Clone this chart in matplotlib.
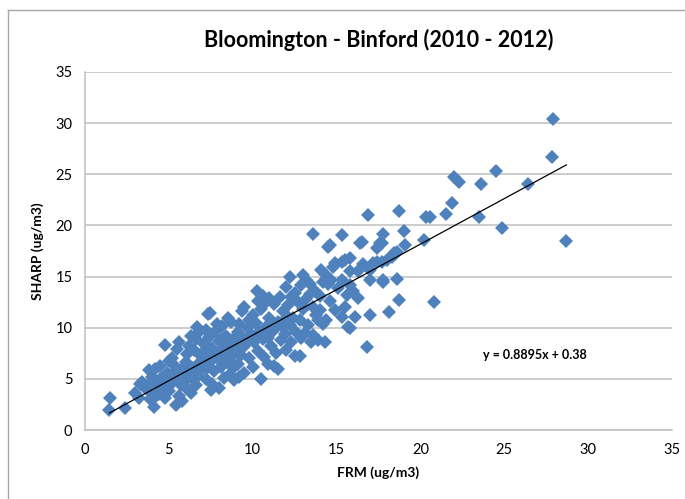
import matplotlib.pyplot as plt
from matplotlib.lines import Line2D

# FRM vs SHARP
frm = [
    1.45, 1.5, 2.4, 3.2, 3.3, 3.0,
    3.4, 3.6, 3.8, 3.9, 4.1, 4.2, 4.0, 4.3, 4.4, 4.5, 4.6, 4.8, 4.7, 4.9, 4.5, 4.9, 4.2, 3.7, 4.8, 4.1,
    5.0, 5.1, 5.2, 5.4, 5.3, 5.5, 5.6, 5.5, 5.7, 5.8, 5.9, 5.6, 6.0, 6.0, 6.1, 6.2, 6.3, 6.3, 6.4, 6.5,
    6.5, 6.6, 6.7, 6.8, 6.8, 6.9, 5.2, 5.8, 6.1, 6.6, 5.4, 6.9, 6.2, 5.0, 6.7,
    7.0, 7.1, 7.2, 7.3, 7.35, 7.4, 7.5, 7.5, 7.6, 7.7, 7.8, 7.9, 8.0, 8.0, 8.1, 8.2, 8.3, 8.3, 8.4, 8.5,
    8.6, 8.65, 8.7, 8.8, 8.9, 8.9, 7.2, 7.6, 8.2, 8.5, 7.9, 8.8, 7.0, 7.45, 8.4,
    9.0, 9.1, 9.2, 9.3, 9.35, 9.4, 9.5, 9.5, 9.6, 9.7, 9.8, 9.9, 10.0, 10.0, 10.1, 10.25, 10.2, 10.3,
    10.4, 10.5, 10.5, 10.6, 10.7, 10.8, 10.8, 10.9, 10.9, 9.2, 9.8, 10.3, 9.4, 10.6, 9.1,
    11.0, 11.1, 11.2, 11.3, 11.4, 11.5, 11.5, 11.6, 11.7, 11.8, 11.9, 12.0, 12.0, 12.1, 12.2, 12.2,
    12.3, 12.4, 12.5, 12.5, 12.6, 12.7, 12.8, 12.8, 12.9, 12.9, 11.3, 12.3, 11.0, 11.8,
    13.0, 13.0, 13.1, 13.2, 13.2, 13.3, 13.4, 13.5, 13.6, 13.6, 13.6, 13.7, 13.8, 13.9, 13.9, 14.0,
    14.1, 14.2, 14.2, 14.3, 14.3, 14.4, 14.4, 14.5, 14.5, 14.6, 14.7, 14.8, 14.9, 14.9, 14.0, 13.4, 14.6,
    15.3, 15.3, 15.3, 15.3, 15.5, 15.5, 15.6, 15.7, 15.8, 15.8, 15.8, 15.8, 16.1, 16.3, 16.3, 16.4,
    16.5, 16.8, 16.9, 17.0, 17.0, 17.0, 16.0, 16.6, 15.1,
    17.2, 17.4, 17.4, 17.6, 17.7, 17.7, 17.8, 17.8, 17.8, 18.0, 18.1, 18.3, 18.4, 18.5, 18.6, 18.6,
    18.7, 18.7, 19.05, 19.1, 20.2, 20.35, 20.6, 20.8, 21.5, 21.9, 22.0, 22.3, 23.5, 23.6, 24.5, 24.85,
    26.4, 27.85, 27.9, 28.7,
    # denser core of the cloud
    5.3, 5.7, 6.0, 6.4, 6.8, 7.1, 7.4, 7.7, 8.0, 8.3, 8.6, 9.0, 9.3, 9.6, 10.0, 10.3, 10.7,
    11.1, 11.4, 11.8, 12.1, 5.9, 6.6, 7.3, 8.1, 8.8, 9.5, 10.2, 11.0, 11.7, 4.4, 3.9,
]
sharp = [
    2.0, 3.1, 2.2, 3.1, 4.5, 3.6,
    4.7, 4.1, 5.9, 3.7, 2.3, 3.2, 5.2, 4.4, 3.7, 5.0, 4.2, 8.3, 3.5, 5.6, 6.3, 4.8, 6.0, 4.3, 3.1, 4.9,
    3.8, 5.4, 4.6, 2.5, 6.4, 5.0, 3.3, 7.9, 4.4, 6.0, 5.3, 8.6, 4.1, 6.7, 7.4, 5.6, 3.6, 9.2, 6.1, 4.9,
    7.8, 8.9, 5.4, 6.6, 9.6, 7.2, 7.0, 2.8, 5.0, 4.4, 5.8, 5.9, 8.2, 6.8, 10.1,
    6.3, 8.4, 5.0, 7.6, 11.3, 9.1, 6.8, 3.9, 8.0, 5.8, 9.7, 7.0, 8.7, 4.1, 6.2, 10.2, 5.1, 7.6, 9.2, 6.8,
    8.3, 5.5, 10.6, 7.3, 4.9, 9.0, 9.8, 4.5, 8.9, 11.0, 10.4, 6.1, 7.5, 11.4, 7.9,
    8.0, 6.5, 10.4, 7.3, 11.6, 9.0, 5.6, 12.0, 8.4, 10.0, 7.0, 9.3, 11.2, 6.2, 8.6, 13.6, 10.5, 7.7,
    9.6, 5.0, 11.8, 8.9, 7.1, 12.5, 10.1, 6.5, 9.0, 5.2, 10.8, 12.6, 8.1, 13.1, 9.6,
    11.0, 8.2, 9.7, 12.3, 7.5, 6.0, 10.6, 13.0, 8.8, 11.6, 9.4, 14.0, 7.8, 12.2, 15.0, 10.3,
    8.6, 11.0, 7.2, 13.4, 9.6, 12.5, 7.2, 10.8, 14.2, 9.0, 6.3, 13.0, 12.9, 10.1,
    15.15, 11.8, 9.5, 14.7, 12.8, 10.3, 14.3, 8.6, 19.2, 9.3, 12.0, 13.6, 11.25, 10.75, 8.8, 13.1,
    15.6, 14.5, 10.4, 15.3, 8.6, 14.8, 10.75, 17.9, 14.3, 18.1, 14.7, 15.95, 16.3, 11.7, 11.7, 13.3, 12.6,
    16.45, 14.7, 11.1, 19.1, 16.6, 12.05, 13.2, 10.1, 16.8, 15.5, 14.2, 9.95, 11.1, 15.5, 12.9, 18.3,
    18.4, 8.15, 21.0, 15.6, 14.7, 11.25, 13.6, 16.2, 13.9,
    16.3, 16.45, 17.8, 18.25, 18.25, 16.4, 19.2, 14.7, 14.5, 16.6, 11.5, 16.9, 17.3, 17.2, 17.4, 14.8,
    21.4, 12.7, 19.5, 18.05, 18.6, 20.8, 20.8, 12.5, 21.1, 22.2, 24.7, 24.2, 20.85, 24.0, 25.3, 19.7,
    24.0, 26.65, 30.4, 18.5,
    5.1, 5.6, 5.9, 6.0, 6.5, 6.7, 7.0, 7.3, 7.5, 7.9, 8.0, 8.2, 8.7, 8.9, 9.1, 9.4, 9.7,
    10.2, 10.1, 10.7, 11.1, 4.7, 5.6, 6.1, 7.1, 7.7, 8.2, 9.0, 9.5, 10.4, 3.5, 3.0,
]

slope = 0.8895
intercept = 0.38

plt.rcParams['font.family'] = ['Lato', 'DejaVu Sans']

fig = plt.figure(figsize=(6.85, 4.99), dpi=100)
ax = fig.add_axes([0.124, 0.138, 0.857, 0.718])

ax.plot(frm, sharp, linestyle='none', marker='D', markersize=7.3,
        color='#4F81BD', markeredgewidth=0, zorder=3)

x0, x1 = min(frm), max(frm)
ax.plot([x0, x1], [slope * x0 + intercept, slope * x1 + intercept],
        color='black', linewidth=0.9, zorder=4)

ax.set_xlim(0, 35)
ax.set_ylim(0, 35)
ax.set_xticks(range(0, 36, 5))
ax.set_yticks(range(0, 36, 5))
ax.grid(axis='y', color='#BFBFBF', linewidth=1.1)
ax.set_axisbelow(True)
for s in ['top', 'right']:
    ax.spines[s].set_visible(False)
for s in ['left', 'bottom']:
    ax.spines[s].set_color('#BFBFBF')
    ax.spines[s].set_linewidth(1.1)
ax.tick_params(length=0, labelsize=10.5, pad=9)

ax.set_xlabel('FRM (ug/m3)', fontsize=10, fontweight='bold', labelpad=7)
ax.set_ylabel('SHARP (ug/m3)', fontsize=10, fontweight='bold', labelpad=8)
ax.set_title('Bloomington - Binford (2010 - 2012)', fontsize=15.5, fontweight='bold', pad=18)

ax.text(26.8, 7.3, 'y = 0.8895x + 0.38', fontsize=9, fontweight='bold',
        ha='center', va='center')

# chart frame
fig.add_artist(Line2D([8 / 685, 8 / 685], [0, 1 - 10 / 499], color='#A6A6A6',
                      linewidth=1, transform=fig.transFigure))
fig.add_artist(Line2D([8 / 685, 1], [1 - 10 / 499, 1 - 10 / 499], color='#A6A6A6',
                      linewidth=1, transform=fig.transFigure))

fig.savefig('out.png', dpi=100)
